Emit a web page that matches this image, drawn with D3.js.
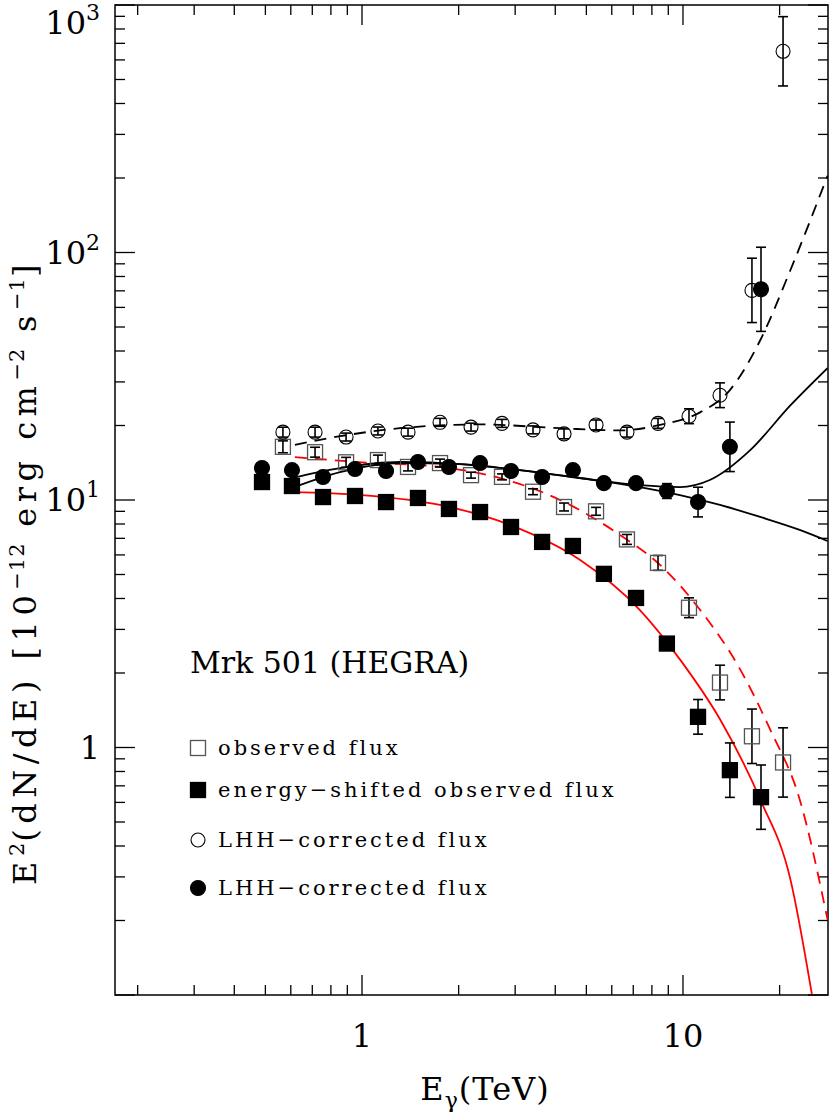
<!DOCTYPE html><html><head><script src="https://cdn.jsdelivr.net/npm/d3@7"></script>
<style>body{margin:0;background:#fff}</style></head><body><svg id="c" width="830" height="1112"></svg><script>
// open squares: observed flux
const obsE=[0.567,0.714,0.892,1.121,1.391,1.750,2.186,2.730,3.41,4.26,5.36,6.69,8.36,10.44,13.04,16.4,20.5];
const obsF=[16.4,15.6,14.2,14.5,13.6,14.1,12.6,12.4,10.8,9.37,9.0,6.93,5.57,3.67,1.83,1.11,0.87];
const obsErr=[0.024,0.02,0.02,0.02,0.016,0.016,0.012,0.012,0.012,0.016,0.016,0.02,0.03,0.04,0.07,0.11,0.14];
// filled squares: energy-shifted
const shE=[0.488,0.605,0.756,0.951,1.188,1.494,1.866,2.332,2.912,3.64,4.54,5.67,7.14,8.91,11.14,14.0,17.5];
const shF=[11.82,11.39,10.28,10.38,9.81,10.19,9.20,8.94,7.78,6.77,6.52,5.03,4.02,2.63,1.33,0.81,0.63];
const shErr=[0,0,0,0,0,0,0,0,0,0,0,0,0.012,0.022,0.07,0.11,0.13];
// open circles: LHH corrected
const ocE=[0.567,0.714,0.892,1.121,1.391,1.750,2.186,2.730,3.41,4.26,5.36,6.69,8.36,10.44,13.04,16.4,20.5];
const ocF=[18.8,18.8,17.96,19.0,18.8,20.6,19.7,20.4,19.2,18.5,20.1,18.8,20.4,21.8,26.5,70.3,650];
const ocErr=[0.02,0.02,0.016,0.016,0.016,0.016,0.016,0.016,0.016,0.02,0.02,0.02,0.02,0.03,0.05,0.13,0.14];
// filled circles: LHH corrected (shifted)
const fcE=[0.488,0.605,0.756,0.951,1.188,1.494,1.866,2.332,2.912,3.64,4.54,5.67,7.14,8.91,11.14,14.0,17.5];
const fcF=[13.46,13.2,12.38,13.34,13.09,14.24,13.6,14.1,13.09,12.38,13.2,11.7,11.7,10.87,9.81,16.4,71];
const fcErr=[0,0,0,0,0,0,0,0,0,0,0,0,0.016,0.03,0.06,0.1,0.17];
// model curves
const redSolidE=[0.605,1,1.75,2.89,4.77,7.33,9.78,13.04,17.4,21.6,25.2];
const redSolidF=[10.77,10.47,9.55,7.93,5.73,3.60,2.27,1.30,0.617,0.294,0.101];
const redDashE=[0.618,1,1.75,2.69,4.14,6.36,8.48,11.3,15.1,18.7,23.1,28.2];
const redDashF=[14.9,14.2,13.6,12.27,10,7.23,5.47,3.60,2.06,1.18,0.617,0.202];
const blkDashE=[0.618,0.854,1.313,2.33,4.14,6.36,8.48,11.3,14.0,17.4,21.6,28.2];
const blkDashF=[16.7,18.1,19.5,20.2,19.5,19.1,20.1,22.6,27.8,44.2,84.8,204];
const blkAE=[0.605,0.854,1.313,2.02,3.10,4.77,7.33,9.78,12.12,16.2,21.6,28.2];
const blkAF=[12.27,13.46,14.24,13.97,13.2,12.27,11.49,11.28,12.04,15.9,24.1,34.1];
const blkBE=[0.605,0.854,1.313,2.02,3.10,4.77,7.33,9.78,13.04,17.4,23.1,28.2];
const blkBF=[11.18,12.96,14.1,13.97,13.2,12.27,11.28,10.47,9.55,8.54,7.57,6.83];
const legend=["observed flux","energy\u2212shifted observed flux","LHH\u2212corrected flux","LHH\u2212corrected flux"];

const svg=d3.select("#c"), L=115,R=828,T=5,B=995;
const x=d3.scaleLog().domain([0.17,28.3]).range([L,R]);
const y=d3.scaleLog().domain([0.1,1000]).range([B,T]);
const font="'DejaVu Serif','Liberation Serif',serif";
const g=svg.append("g");
g.append("rect").attr("x",L).attr("y",T).attr("width",R-L).attr("height",B-T).attr("fill","none").attr("stroke","#000").attr("stroke-width",1.5);
const xt=[];for(let d=0.1;d<100;d*=10)for(let k=1;k<10;k++){const v=d*k;if(v>=0.17&&v<=28.3)xt.push(v);}
xt.forEach(v=>{const m=Math.abs(Math.log10(v)-Math.round(Math.log10(v)))<1e-6, len=m?20:10, px=x(v);
 g.append("line").attr("x1",px).attr("x2",px).attr("y1",B).attr("y2",B-len).attr("stroke","#000").attr("stroke-width",1.3);
 g.append("line").attr("x1",px).attr("x2",px).attr("y1",T).attr("y2",T+len).attr("stroke","#000").attr("stroke-width",1.3);});
const yt=[];for(let d=0.1;d<1000;d*=10)for(let k=1;k<10;k++){const v=d*k;if(v>=0.1&&v<=1000.1)yt.push(v);}yt.push(1000);
yt.forEach(v=>{const m=Math.abs(Math.log10(v)-Math.round(Math.log10(v)))<1e-6, len=m?20:10, py=y(v);
 g.append("line").attr("x1",L).attr("x2",L+len).attr("y1",py).attr("y2",py).attr("stroke","#000").attr("stroke-width",1.3);
 g.append("line").attr("x1",R).attr("x2",R-len).attr("y1",py).attr("y2",py).attr("stroke","#000").attr("stroke-width",1.3);});
[[1,"1"],[10,"10"]].forEach(([v,t])=>g.append("text").attr("x",x(v)).attr("y",1047).attr("text-anchor","middle").attr("font-family",font).attr("font-size",32).text(t));
[[1,"1",null],[10,"10","1"],[100,"10","2"],[1000,"10","3"]].forEach(([v,b,e])=>{
 const t=g.append("text").attr("x",100).attr("y",Math.max(y(v)+11,34)).attr("text-anchor","end").attr("font-family",font).attr("font-size",32);
 if(e){t.append("tspan").text(b);t.append("tspan").attr("dy",-14).attr("font-size",22).text(e);} else t.text(b);});
const xtit=g.append("text").attr("x",485).attr("y",1100).attr("text-anchor","middle").attr("font-family",font).attr("font-size",32).attr("letter-spacing",1);
xtit.append("tspan").text("E");xtit.append("tspan").attr("dy",8).attr("font-size",22).text("\u03b3");xtit.append("tspan").attr("dy",-8).text("(TeV)");
const yt2=g.append("text").attr("transform","translate(36,572) rotate(-90)").attr("text-anchor","middle").attr("font-family",font).attr("font-size",32).attr("letter-spacing",5.5);
yt2.append("tspan").text("E");yt2.append("tspan").attr("dy",-12).attr("font-size",21).attr("letter-spacing",1).text("2");
yt2.append("tspan").attr("dy",12).text("(dN/dE) [10");yt2.append("tspan").attr("dy",-12).attr("font-size",21).attr("letter-spacing",1).text("\u221212");
yt2.append("tspan").attr("dy",12).text(" erg cm");yt2.append("tspan").attr("dy",-12).attr("font-size",21).attr("letter-spacing",1).text("\u22122");
yt2.append("tspan").attr("dy",12).text(" s");yt2.append("tspan").attr("dy",-12).attr("font-size",21).attr("letter-spacing",1).text("\u22121");
yt2.append("tspan").attr("dy",12).text("]");
svg.append("clipPath").attr("id","cp").append("rect").attr("x",L).attr("y",T).attr("width",R-L).attr("height",B-T);
const line=d3.line().x(d=>x(d[0])).y(d=>y(d[1])).curve(d3.curveMonotoneX);
const cg=svg.append("g").attr("clip-path","url(#cp)");
function curve(es,fs,col,dash){cg.append("path").attr("d",line(es.map((e,i)=>[e,fs[i]]))).attr("fill","none").attr("stroke",col).attr("stroke-width",1.8).attr("stroke-dasharray",dash);}
curve(redSolidE,redSolidF,"#f00",null);
curve(redDashE,redDashF,"#f00","12,8");
curve(blkDashE,blkDashF,"#000","12,8");
curve(blkAE,blkAF,"#000",null);
curve(blkBE,blkBF,"#000",null);
function errs(es,fs,er){es.forEach((e,i)=>{if(!er[i])return;const px=x(e),y1=y(fs[i]*Math.pow(10,er[i])),y2=y(fs[i]/Math.pow(10,er[i]));
 cg.append("line").attr("x1",px).attr("x2",px).attr("y1",y1).attr("y2",y2).attr("stroke","#000").attr("stroke-width",1.6);
 [y1,y2].forEach(yy=>cg.append("line").attr("x1",px-5).attr("x2",px+5).attr("y1",yy).attr("y2",yy).attr("stroke","#000").attr("stroke-width",1.6));});}
function sq(px,py,fill){svg.append("rect").attr("x",px-7.5).attr("y",py-7.5).attr("width",15).attr("height",15).attr("fill",fill?"#000":"none").attr("stroke",fill?"#000":"#555").attr("stroke-width",1.3);}
function ci(px,py,fill){svg.append("circle").attr("cx",px).attr("cy",py).attr("r",fill?7.5:7).attr("fill",fill?"#000":"none").attr("stroke","#000").attr("stroke-width",1.1);}
obsE.forEach((e,i)=>sq(x(e),y(obsF[i]),false));errs(obsE,obsF,obsErr);
ocE.forEach((e,i)=>ci(x(e),y(ocF[i]),false));errs(ocE,ocF,ocErr);
errs(shE,shF,shErr);shE.forEach((e,i)=>sq(x(e),y(shF[i]),true));
errs(fcE,fcF,fcErr);fcE.forEach((e,i)=>ci(x(e),y(fcF[i]),true));
svg.append("text").attr("x",190).attr("y",673).attr("font-family",font).attr("font-size",30).text("Mrk 501 (HEGRA)");
const ly=[748,790,840,888];
sq(198,ly[0],false);sq(198,ly[1],true);ci(198,ly[2],false);ci(198,ly[3],true);
legend.forEach((t,i)=>svg.append("text").attr("x",218).attr("y",ly[i]+7).attr("font-family",font).attr("font-size",21).attr("letter-spacing",3).text(t));
</script></body></html>
